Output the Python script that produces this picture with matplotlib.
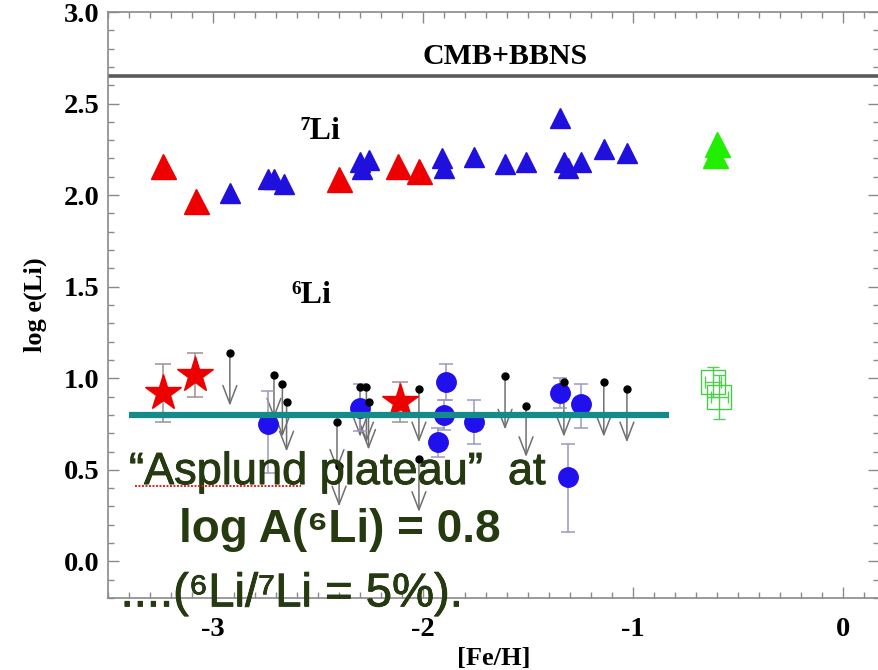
import matplotlib
matplotlib.use("Agg")
import matplotlib.pyplot as plt
import matplotlib.patheffects as pe
from matplotlib.ticker import MultipleLocator, FixedLocator

# ---------------- data ----------------
# 7Li abundances
li7_red_feh = [-3.24, -3.08, -2.40, -2.12, -2.02]
li7_red = [2.16, 1.97, 2.09, 2.16, 2.13]

li7_blue_feh = [-2.92, -2.74, -2.71, -2.66, -2.30, -2.26, -2.29, -1.91, -1.90,
                -1.76, -1.61, -1.51, -1.35, -1.33, -1.31, -1.25, -1.14, -1.03]
li7_blue = [2.01, 2.09, 2.09, 2.06, 2.18, 2.19, 2.14, 2.20, 2.15,
            2.21, 2.17, 2.18, 2.42, 2.18, 2.15, 2.18, 2.25, 2.23]

li7_green_feh = [-0.61, -0.60]
li7_green = [2.22, 2.28]

# 6Li detections
li6_star_feh = [-3.24, -3.085, -2.11]
li6_star = [0.92, 1.02, 0.87]
li6_star_err = [0.16, 0.12, 0.11]

li6_circ_feh = [-2.74, -2.30, -1.89, -1.90, -1.93, -1.76, -1.35, -1.25, -1.31]
li6_circ = [0.75, 0.84, 0.98, 0.80, 0.65, 0.76, 0.92, 0.86, 0.46]
li6_circ_err_lo = [0.27, 0.13, 0.10, 0.08, 0.08, 0.12, 0.08, 0.13, 0.30]
li6_circ_err_hi = [0.18, 0.13, 0.10, 0.08, 0.08, 0.12, 0.08, 0.11, 0.18]

li6_sq_feh = [-0.62, -0.59]
li6_sq = [0.98, 0.90]
li6_sq_err = [0.08, 0.12]
li6_sq_xerr = [0.04, 0.04]

# 6Li upper limits: [Fe/H], limit value, arrow tip
ul_feh = [-2.92, -2.71, -2.67, -2.65, -2.41, -2.40, -2.30, -2.27, -2.26,
          -2.02, -2.02, -1.61, -1.51, -1.33, -1.14, -1.03]
ul_top = [1.14, 1.02, 0.97, 0.87, 0.76, 0.52, 0.95, 0.95, 0.87,
          0.94, 0.56, 1.01, 0.85, 0.98, 0.98, 0.94]
ul_tip = [0.85, 0.78, 0.68, 0.60, 0.50, 0.30, 0.68, 0.65, 0.61,
          0.65, 0.27, 0.72, 0.57, 0.68, 0.68, 0.65]

cmb_bbns = 2.65
plateau_value = 0.8
plateau_range = [-3.40, -0.83]

x_ticks = [-3, -2, -1, 0]
x_ticklabels = ["-3", "-2", "-1", "0"]
y_ticks = [0.0, 0.5, 1.0, 1.5, 2.0, 2.5, 3.0]
y_ticklabels = ["0.0", "0.5", "1.0", "1.5", "2.0", "2.5", "3.0"]

# ---------------- figure ----------------
W, H = 879, 670
fig = plt.figure(figsize=(W / 100, H / 100), dpi=100)
ax = fig.add_axes([108 / W, 1 - 598 / H, (W - 108) / W, (598 - 12) / H])
ax.set_xlim(-3.5, 0.17)
ax.set_ylim(-0.2, 3.0)

serif = ["Liberation Serif", "DejaVu Serif"]
sans = ["Liberation Sans", "DejaVu Sans"]
gray = "#8a8a8a"

for s in ax.spines.values():
    s.set_color(gray)
    s.set_linewidth(1.2)

ax.xaxis.set_major_locator(FixedLocator(x_ticks))
ax.xaxis.set_minor_locator(MultipleLocator(0.1))
ax.yaxis.set_major_locator(FixedLocator(y_ticks))
ax.yaxis.set_minor_locator(MultipleLocator(0.1))
ax.set_xticklabels(x_ticklabels)
ax.set_yticklabels(y_ticklabels)
ax.tick_params(which="both", direction="in", top=True, right=True, color=gray, width=1.0)
ax.tick_params(which="major", length=8)
ax.tick_params(which="minor", length=4.5)
ax.tick_params(axis="x", which="major", pad=14)
ax.tick_params(axis="y", which="major", pad=6)
for lab in ax.get_xticklabels() + ax.get_yticklabels():
    lab.set_fontfamily(serif)
    lab.set_fontweight("bold")
    lab.set_fontsize(20.5)

ax.set_xlabel("[Fe/H]", fontfamily=serif, fontweight="bold", fontsize=19, labelpad=3)
ax.set_ylabel("log e(Li)", fontfamily=serif, fontweight="bold", fontsize=19, labelpad=12)

# CMB + BBNS line
ax.axhline(cmb_bbns, color="#5a5a5a", lw=2.6, zorder=2)
ax.text(-1.61, 2.755, "CMB+BBNS", fontfamily=serif, fontweight="bold", fontsize=21.5,
        ha="center", va="center")

ax.text(-2.49, 2.35, "⁷Li", fontfamily=serif, fontweight="bold", fontsize=23,
        ha="center", va="center")
ax.text(-2.53, 1.45, "⁶Li", fontfamily=serif, fontweight="bold", fontsize=23,
        ha="center", va="center")

# 7Li triangles
ax.plot(li7_blue_feh, li7_blue, ls="none", marker="^", ms=14, color="#2010dd", zorder=3)
ax.plot(li7_red_feh, li7_red, ls="none", marker="^", ms=18, color="#ee0000", zorder=3)
ax.plot(li7_green_feh, li7_green, ls="none", marker="^", ms=18, color="#22ee00", zorder=3)

# 6Li upper limits
for x, t, b in zip(ul_feh, ul_top, ul_tip):
    ax.annotate("", xy=(x, b), xytext=(x, t),
                arrowprops=dict(arrowstyle="->,head_length=1.3,head_width=0.5",
                                color="#707070", lw=1.1, shrinkA=0, shrinkB=0),
                zorder=4)
ax.plot(ul_feh, ul_top, ls="none", marker="o", ms=5, color="black", zorder=5)

# 6Li detections
ax.errorbar(li6_circ_feh, li6_circ, yerr=[li6_circ_err_lo, li6_circ_err_hi], fmt="o",
            ms=14, color="#2010ee", ecolor="#9a98c0", elinewidth=1.1, capsize=5, capthick=1.1,
            zorder=4)
ax.errorbar(li6_star_feh, li6_star, yerr=li6_star_err, fmt="*", ms=27, color="#ee0000",
            ecolor="#a09090", elinewidth=1.1, capsize=6, capthick=1.1, zorder=4)
ax.errorbar(li6_sq_feh, li6_sq, yerr=li6_sq_err, xerr=li6_sq_xerr, fmt="s", ms=17,
            mfc="none", mec="#44cc44", mew=1.0, ecolor="#55cc55", elinewidth=1.0,
            capsize=4, capthick=1.0, zorder=4)

# Asplund plateau line
ax.hlines(plateau_value, plateau_range[0], plateau_range[1], color="#168a8a", lw=4.5, zorder=6)

# overlay text
tcol = "#263a10"
light = [pe.withStroke(linewidth=0.6, foreground="#1c2c0c")]
ax.text(-3.40, 0.485, "“Asplund plateau”  at", fontfamily=sans, fontsize=32.5, color=tcol,
        ha="left", va="center", zorder=10, path_effects=light)
ax.hlines(0.41, -3.37, -2.58, color="#e02020", lw=1.4, linestyles=(0, (1.0, 0.8)), zorder=10)
ax.text(-3.16, 0.17, "log A(⁶Li) = 0.8", fontfamily=sans, fontweight="bold", fontsize=33,
        color=tcol, ha="left", va="center", zorder=10)
ax.text(-3.44, -0.18, "....(⁶Li/⁷Li = 5%).", fontfamily=sans, fontsize=34, color=tcol,
        ha="left", va="center", zorder=10, path_effects=light)

fig.savefig("out.png", dpi=100)
